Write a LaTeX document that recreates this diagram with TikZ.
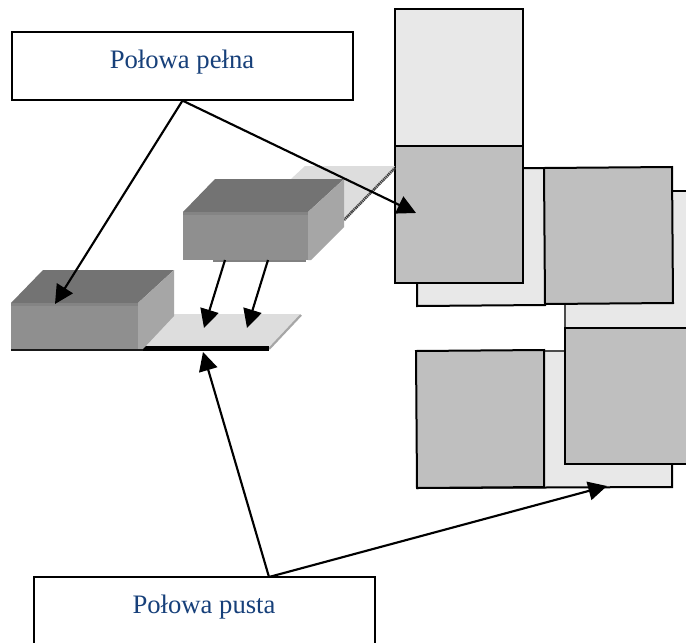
\documentclass[tikz,border=0pt]{standalone}
\usepackage{fontspec}
\setmainfont{Liberation Serif}
\usetikzlibrary{arrows.meta}
\definecolor{labelblue}{HTML}{17407A}
\definecolor{blockfront}{HTML}{8F8F8F}
\definecolor{blocktop}{HTML}{737373}
\definecolor{blockside}{HTML}{A6A6A6}
\definecolor{plate}{HTML}{DDDDDD}
\definecolor{sheetlight}{HTML}{E8E8E8}
\definecolor{sheetgray}{HTML}{BFBFBF}
\tikzset{
  labelbox/.style={draw=black,line width=0.9pt,fill=white,minimum width=255.75pt,inner sep=0pt},
  labeltext/.style={text=labelblue,font=\fontsize{20}{22}\selectfont,anchor=base,inner sep=0pt},
  pointer/.style={draw=black,line width=1.6pt,-{Triangle[length=14pt,width=14pt]}},
  light/.style={fill=sheetlight,draw=none},
  edge/.style={draw=black,line width=1.5pt,line join=miter},
  gray/.style={fill=sheetgray,draw=black,line width=1.5pt},
}
\begin{document}
\begin{tikzpicture}[x=0.75pt,y=-0.75pt]
\useasboundingbox (0,0) rectangle (686,643);
\fill[white] (0,0) rectangle (686,643);

% right-hand sheets
\fill[light] (565,191) rectangle (686,330);
\draw[edge] (672,191) -- (686,191);
\draw[line width=0.9pt,draw=black!70] (565,304) -- (565,330);
\path[light,edge] (417,168) -- (545,168) -- (545,305) -- (417,306) -- cycle;
\path[gray] (544,168) -- (672,167) -- (673,303) -- (545,304) -- cycle;
\path[light] (544,351) rectangle (672,487);
\draw[edge] (672,464) -- (672,487) -- (417,488);
\draw[line width=0.9pt,draw=black!70] (544,351) -- (566,351);
\path[gray] (416,351) -- (544,350) -- (544,487) -- (417,488) -- cycle;
\path[gray] (565,328) -- (690,328) -- (690,464) -- (565,464) -- cycle;
\path[light,draw=black,line width=0.9pt] (395,9) rectangle (523,146);
\path[gray] (395,146) rectangle (523,283);

% back plate under the upper block
\fill[plate] (291,179) -- (305,166) -- (395,166) -- (344,220) -- (344,179) -- cycle;
\draw[line width=2pt,black!75,dash pattern=on 1pt off 0.5pt] (344,220) -- (395,168);

% upper block
\fill[blockfront!90!black] (213,258) rectangle (306,261.5);
\fill[blocktop] (183,212) -- (215,179) -- (344,179) -- (308,212) -- cycle;
\fill[blockside] (308,212) -- (344,179) -- (344,227) -- (311,260) -- (308,260) -- cycle;
\fill[blockfront] (183,212) rectangle (308,260);
\fill[blockfront!92!black] (183,212) rectangle (308,215);

% lower plate
\fill[plate] (143,348) -- (173,314) -- (301,314) -- (269,348) -- cycle;
\draw[line width=1.6pt,black!35] (269,349) -- (301,315);
\draw[line width=3.2pt,black] (143,348.5) -- (269,348.5);

% lower block
\fill[blocktop] (11,303) -- (43,270) -- (174,270) -- (138,303) -- cycle;
\fill[blockside] (138,303) -- (174,270) -- (174,316) -- (143,349) -- (138,349) -- cycle;
\fill[blockfront] (11,303) rectangle (138,349);
\fill[blockfront!92!black] (11,303) rectangle (138,306);
\draw[line width=1.6pt,black!90] (11,350) -- (143,350);

% labels
\node[labelbox,minimum height=51pt] (full) at (182.5,66) {};
\node[labeltext] (fulltext) at (182,68) {Połowa pełna};
\node[labelbox,minimum height=54pt] (empty) at (204.5,613) {};
\node[labeltext] (emptytext) at (204,613) {Połowa pusta};

% free ends of connectors
\coordinate (blockA) at (55,304);
\coordinate (sheetA) at (416,213);
\coordinate (upperL) at (225,260);
\coordinate (upperR) at (268,260);
\coordinate (plateL) at (204,328);
\coordinate (plateR) at (247,328);
\coordinate (plateEdge) at (203,352);
\coordinate (sheetB) at (607,486);
\coordinate (emptyOut) at (269,577);

\draw[pointer] (full.south) -- (blockA);
\draw[pointer] (full.south) -- (sheetA);
\draw[pointer] (upperL) -- (plateL);
\draw[pointer] (upperR) -- (plateR);
\draw[pointer] (emptyOut) -- (plateEdge);
\draw[pointer] (emptyOut) -- (sheetB);
\end{tikzpicture}
\end{document}
